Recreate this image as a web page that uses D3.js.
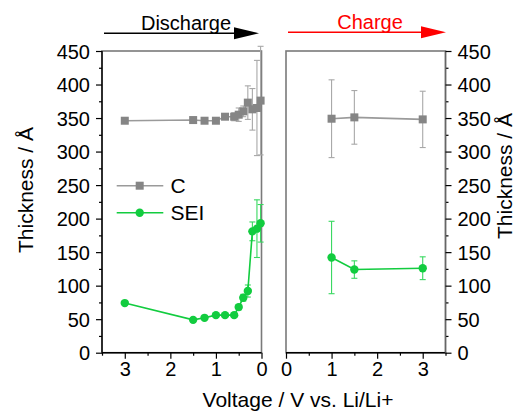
<!DOCTYPE html>
<html>
<head>
<meta charset="utf-8">
<script src="https://cdn.jsdelivr.net/npm/d3@7"></script>
<style>
  body { margin: 0; background: #fff; }
  svg { display: block; font-family: Arial, "Liberation Sans", sans-serif; }
</style>
</head>
<body>
<div class="chart-container"></div>
<script>
// data
const dischargeVoltage = [3.0, 1.5, 1.25, 1.0, 0.8, 0.6, 0.5, 0.4, 0.3, 0.2, 0.1, 0.02];
const cDischarge = [346, 347, 346, 346, 352, 352, 355, 360, 373, 363, 365, 376];
const cDischargeErr = [0, 0, 0, 0, 4, 6, 10, 8, 25, 31, 71, 81];
const seiDischarge = [74, 49, 52, 56, 56, 56, 68, 82, 92, 181, 185, 193];
const seiDischargeErr = [0, 0, 0, 0, 0, 3, 4, 5, 9, 14, 43, 28];

const chargeVoltage = [1.0, 1.5, 3.0];
const cCharge = [349, 351, 348];
const cChargeErr = [58, 40, 42];
const seiCharge = [142, 124, 126];
const seiChargeErr = [54, 13, 17];

const yTicks = [0, 50, 100, 150, 200, 250, 300, 350, 400, 450];
const xTicks = [0, 1, 2, 3];

const grey = "#858585";
const greyBar = "#a8a8a8";
const green = "#12cc3f";
const greenBar = "#38d860";

// size of the page
const width = 517, height = 412;
const plotTop = 51, plotBottom = 352.7;

const svg = d3.select(".chart-container")
    .append("svg")
    .attr("width", width)
    .attr("height", height);

const yScale = d3.scaleLinear().domain([0, 450]).range([plotBottom, plotTop]);

// two panels: discharge (reversed x) and charge
const xLeft = d3.scaleLinear().domain([3.5, 0]).range([102, 261.5]);
const xRight = d3.scaleLinear().domain([0, 3.5]).range([286, 445.5]);

function series(g, x, vs, ys, errs, color, barColor, shape) {
    const pts = vs.map((v, i) => ({v: v, y: ys[i], e: errs[i]}));

    // error bars
    const eb = g.append("g").attr("stroke", barColor).attr("stroke-width", 1.1);
    pts.filter(d => d.e > 0).forEach(function(d) {
        const cx = x(d.v);
        eb.append("line").attr("x1", cx).attr("x2", cx)
            .attr("y1", yScale(d.y - d.e)).attr("y2", yScale(d.y + d.e));
        eb.append("line").attr("x1", cx - 3).attr("x2", cx + 3)
            .attr("y1", yScale(d.y - d.e)).attr("y2", yScale(d.y - d.e));
        eb.append("line").attr("x1", cx - 3).attr("x2", cx + 3)
            .attr("y1", yScale(d.y + d.e)).attr("y2", yScale(d.y + d.e));
    });

    g.append("path")
        .datum(pts)
        .attr("fill", "none")
        .attr("stroke", shape == "square" ? "#9a9a9a" : color)
        .attr("stroke-width", 1.6)
        .attr("d", d3.line().x(d => x(d.v)).y(d => yScale(d.y)));

    if (shape == "square") {
        g.selectAll("rect.m")
            .data(pts)
            .join("rect")
            .attr("class", "m")
            .attr("x", d => x(d.v) - 4)
            .attr("y", d => yScale(d.y) - 4)
            .attr("width", 8)
            .attr("height", 8)
            .attr("fill", color);
    } else {
        g.selectAll("circle.m")
            .data(pts)
            .join("circle")
            .attr("class", "m")
            .attr("cx", d => x(d.v))
            .attr("cy", d => yScale(d.y))
            .attr("r", 4.2)
            .attr("fill", color);
    }
}

function panel(x, side) {
    const g = svg.append("g");
    const [x0, x1] = x.range();

    // grey frame (top and the inner side)
    g.append("rect")
        .attr("x", x0).attr("y", plotTop)
        .attr("width", x1 - x0).attr("height", plotBottom - plotTop)
        .attr("fill", "none")
        .attr("stroke", "#7a7a7a")
        .attr("stroke-width", 1.6);

    // x axis with minor ticks
    const xMinor = d3.range(0, 3.51, 0.5).filter(t => !xTicks.includes(t));
    g.append("g")
        .attr("transform", "translate(0," + plotBottom + ")")
        .call(d3.axisBottom(x).tickValues(xMinor).tickSize(3).tickFormat(""))
        .call(a => a.select(".domain").remove());
    const xa = g.append("g")
        .attr("class", "x-axis")
        .attr("transform", "translate(0," + plotBottom + ")")
        .call(d3.axisBottom(x).tickValues(xTicks).tickSize(6).tickPadding(3).tickFormat(d3.format("d")));
    xa.select(".domain").attr("d", "M" + x0 + ",0H" + x1).attr("stroke", "#000").attr("stroke-width", 1.4);

    // y axis
    const yMinor = d3.range(25, 450, 50);
    const axisFn = side == "left" ? d3.axisLeft : d3.axisRight;
    const yx = side == "left" ? x0 : x1;
    g.append("g")
        .attr("transform", "translate(" + yx + ",0)")
        .call(axisFn(yScale).tickValues(yMinor).tickSize(3).tickFormat(""))
        .call(a => a.select(".domain").remove());
    const ya = g.append("g")
        .attr("class", "y-axis")
        .attr("transform", "translate(" + yx + ",0)")
        .call(axisFn(yScale).tickValues(yTicks).tickSize(6).tickPadding(6));
    ya.select(".domain").attr("d", "M0," + plotTop + "V" + plotBottom)
        .attr("stroke", side == "left" ? "#000" : "#666").attr("stroke-width", 1.4);

    g.selectAll(".tick text").attr("font-size", 20).attr("fill", "#000")
        .attr("font-family", "Arial, 'Liberation Sans', sans-serif");
    g.selectAll(".tick line").attr("stroke", "#000").attr("stroke-width", 1.2);
    g.selectAll(".y-axis .tick text").attr("dy", "0.36em");
    return g;
}

const leftG = panel(xLeft, "left");
const rightG = panel(xRight, "right");

series(leftG, xLeft, dischargeVoltage, cDischarge, cDischargeErr, grey, greyBar, "square");
series(leftG, xLeft, dischargeVoltage, seiDischarge, seiDischargeErr, green, greenBar, "circle");
series(rightG, xRight, chargeVoltage, cCharge, cChargeErr, grey, greyBar, "square");
series(rightG, xRight, chargeVoltage, seiCharge, seiChargeErr, green, greenBar, "circle");

// arrows over the panels
function arrow(xStart, xEnd, y, color, label, labelX) {
    svg.append("line")
        .attr("x1", xStart).attr("x2", xEnd - 24)
        .attr("y1", y).attr("y2", y)
        .attr("stroke", color).attr("stroke-width", 1.4);
    svg.append("path")
        .attr("d", "M" + (xEnd - 25) + "," + (y - 6) + "L" + xEnd + "," + y + "L" + (xEnd - 25) + "," + (y + 6) + "Z")
        .attr("fill", color);
    svg.append("text")
        .attr("x", labelX).attr("y", y - 3)
        .attr("text-anchor", "middle")
        .attr("font-size", 20)
        .attr("fill", color)
        .text(label);
}
arrow(104, 259, 33.3, "#000", "Discharge", 186);
arrow(288, 446, 32.3, "#ff0000", "Charge", 370);

// legend
const legend = svg.append("g");
const legendItems = [{name: "C", color: grey, shape: "square", y: 185.7},
                     {name: "SEI", color: green, shape: "circle", y: 212.7}];
legendItems.forEach(function(d) {
    legend.append("line")
        .attr("x1", 116.7).attr("x2", 163.3).attr("y1", d.y).attr("y2", d.y)
        .attr("stroke", d.shape == "square" ? "#9a9a9a" : d.color).attr("stroke-width", 1.6);
    if (d.shape == "square") {
        legend.append("rect").attr("x", 135.7).attr("y", d.y - 4).attr("width", 8).attr("height", 8).attr("fill", d.color);
    } else {
        legend.append("circle").attr("cx", 139.7).attr("cy", d.y).attr("r", 4.2).attr("fill", d.color);
    }
    legend.append("text")
        .attr("x", 170.5).attr("y", d.y + 7.5)
        .attr("font-size", 21)
        .text(d.name);
});

// axis titles (the reference crops them at the edge, keep them just inside)
svg.append("text")
    .attr("transform", "translate(512,176) rotate(-90)")
    .attr("text-anchor", "middle")
    .attr("font-size", 21)
    .text("Thickness / Å");
svg.append("text")
    .attr("transform", "translate(33,190) rotate(-90)")
    .attr("text-anchor", "middle")
    .attr("font-size", 21)
    .text("Thickness / Å");
svg.append("text")
    .attr("x", 298).attr("y", 407)
    .attr("text-anchor", "middle")
    .attr("font-size", 21)
    .text("Voltage / V vs. Li/Li+");
</script>
</body>
</html>
